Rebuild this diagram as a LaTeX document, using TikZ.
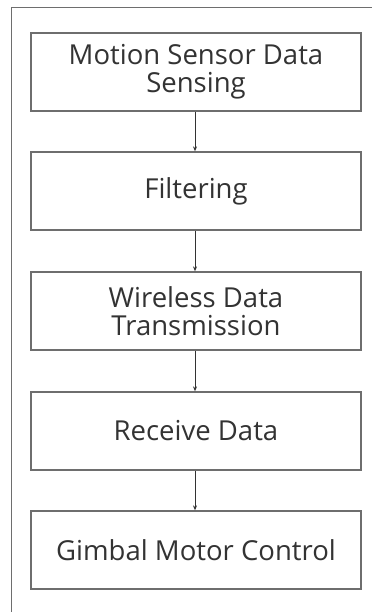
\documentclass[tikz,border=0pt]{standalone}
\usepackage{fontspec}
\setmainfont{Open Sans}
\usetikzlibrary{arrows.meta}
\definecolor{edgegray}{HTML}{6E6E6E}
\definecolor{textgray}{HTML}{333333}
\begin{document}
\begin{tikzpicture}[x=1pt,y=-1pt,
  stepbox/.style={draw=edgegray, line width=1.3pt, fill=white,
    minimum width=330pt, minimum height=78pt, align=center,
    font=\fontsize{27.5}{28}\selectfont, text=textgray, inner sep=0pt},
  flow/.style={draw=black!80, line width=1pt, -{Stealth[length=5pt,width=4pt]}}]
  \useasboundingbox (0,0) rectangle (372,612);
  % outer frame (top and left edges only)
  \draw[edgegray, line width=1.2pt] (11.5,612) -- (11.5,7.5) -- (372,7.5);
  % process steps
  \node[stepbox] (s1) at (196,72)  {Motion Sensor Data\\Sensing};
  \node[stepbox] (s2) at (196,191) {Filtering};
  \node[stepbox] (s3) at (196,311) {Wireless Data\\Transmission};
  \node[stepbox] (s4) at (196,431) {Receive Data};
  \node[stepbox] (s5) at (196,550) {Gimbal Motor Control};
  % connectors
  \draw[flow] (s1.south -| 195,0) -- (s2.north -| 195,0);
  \draw[flow] (s2.south -| 195,0) -- (s3.north -| 195,0);
  \draw[flow] (s3.south -| 195,0) -- (s4.north -| 195,0);
  \draw[flow] (s4.south -| 195,0) -- (s5.north -| 195,0);
\end{tikzpicture}
\end{document}
